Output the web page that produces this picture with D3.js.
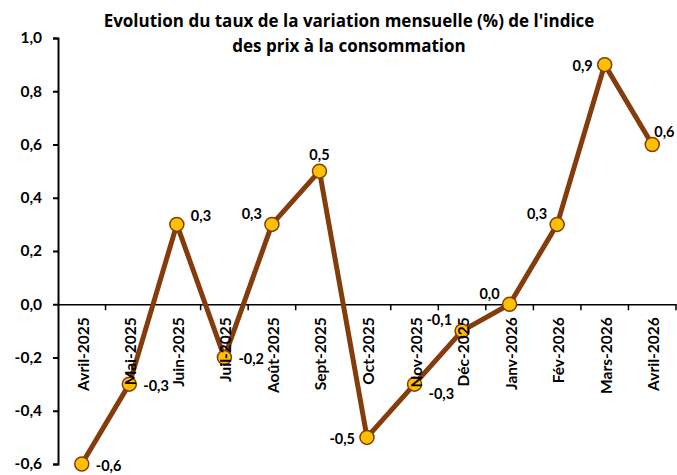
<!DOCTYPE html>
<html><head><meta charset="utf-8">
<script src="https://cdn.jsdelivr.net/npm/d3@7"></script>
<style>body{margin:0;background:#fff;} svg{display:block;font-family:Lato,"Open Sans",sans-serif;font-weight:bold;}</style>
</head><body><svg id="c" width="677" height="475"></svg>
<script>
const categories = ["Avril-2025","Mai-2025","Juin-2025","Juil-2025","Août-2025","Sept-2025","Oct-2025","Nov-2025","Déc-2025","Janv-2026","Fév-2026","Mars-2026","Avril-2026"];
const values = [-0.6,-0.3,0.3,-0.2,0.3,0.5,-0.5,-0.3,-0.1,0.0,0.3,0.9,0.6];
const yTicks = [-0.6,-0.4,-0.2,0.0,0.2,0.4,0.6,0.8,1.0];
const labelPlacement = ["r","r","ur","r","ul","u","l","dr","ul","ul","ul","l","ur2"];
const titleLines = ["Evolution du taux de la variation mensuelle (%) de l'indice","des prix à la consommation"];

const svg = d3.select("#c");
const fmt = v => d3.format(".1f")(v).replace(".", ",").replace("−","-");
const x = d3.scaleBand().domain(categories).range([58, 676]);
const y = d3.scaleLinear().domain([-0.6, 1.0]).range([464, 38]);

// title
svg.append("g").selectAll("text").data(titleLines).join("text")
  .attr("x", 349).attr("y", (d,i) => 27 + i*25)
  .attr("text-anchor","middle").attr("font-size",17).attr("font-family","'Open Sans',sans-serif")
  .attr("fill","#000").text(d=>d);

// y axis
const yAxis = svg.append("g").attr("transform","translate(58,0)")
  .call(d3.axisLeft(y).tickValues(yTicks).tickSize(5).tickPadding(11).tickFormat(fmt));
yAxis.select(".domain").attr("stroke","#000").attr("stroke-width",2);
yAxis.selectAll(".tick line").attr("stroke","#000").attr("stroke-width",2);
yAxis.selectAll("text").attr("font-size",15.5).attr("font-family","Lato,sans-serif").attr("font-weight","bold").attr("fill","#000");

// x axis at zero
const xAxis = svg.append("g").attr("transform",`translate(0,${y(0)})`)
  .call(d3.axisBottom(x).tickSize(0).tickFormat(""));
xAxis.select(".domain").attr("stroke","#000").attr("stroke-width",1.5);
const boundaries = categories.map((c,i) => x(c) + x.bandwidth());
svg.append("g").selectAll("line").data(boundaries).join("line")
  .attr("x1", d=>d).attr("x2", d=>d).attr("y1", y(0)).attr("y2", y(0)+6)
  .attr("stroke","#000").attr("stroke-width",1.5);

// line
const cx = c => x(c) + x.bandwidth()/2;
svg.append("path").datum(values)
  .attr("d", d3.line().x((d,i)=>cx(categories[i])).y(d=>y(d)))
  .attr("fill","none").attr("stroke","#843C0C").attr("stroke-width",5).attr("stroke-linejoin","round");

// markers
svg.append("g").selectAll("circle").data(values).join("circle")
  .attr("cx",(d,i)=>cx(categories[i])).attr("cy",d=>y(d)).attr("r",7)
  .attr("fill","#FFC000").attr("stroke","#843C0C").attr("stroke-width",1.5);

// x labels
svg.append("g").selectAll("text").data(categories).join("text")
  .attr("transform", c => `translate(${cx(c)+1},${y(0)+13}) rotate(-90)`)
  .attr("text-anchor","end").attr("dominant-baseline","central")
  .attr("font-size",15.5).attr("fill","#000").text(c=>c);

// data labels
const off = {r:[14,1,"start"], ur:[14,-9,"start"], ur2:[2,-13,"start"], ul:[-10,-11,"end"], u:[0,-17,"middle"], l:[-12,1,"end"], dr:[14,9,"start"]};
svg.append("g").selectAll("text").data(values).join("text")
  .attr("x",(d,i)=>cx(categories[i]) + off[labelPlacement[i]][0])
  .attr("y",(d,i)=>y(d) + off[labelPlacement[i]][1])
  .attr("text-anchor",(d,i)=>off[labelPlacement[i]][2])
  .attr("dominant-baseline","central")
  .attr("font-size",14.5).attr("fill","#000").text(d=>fmt(d));
</script></body></html>
